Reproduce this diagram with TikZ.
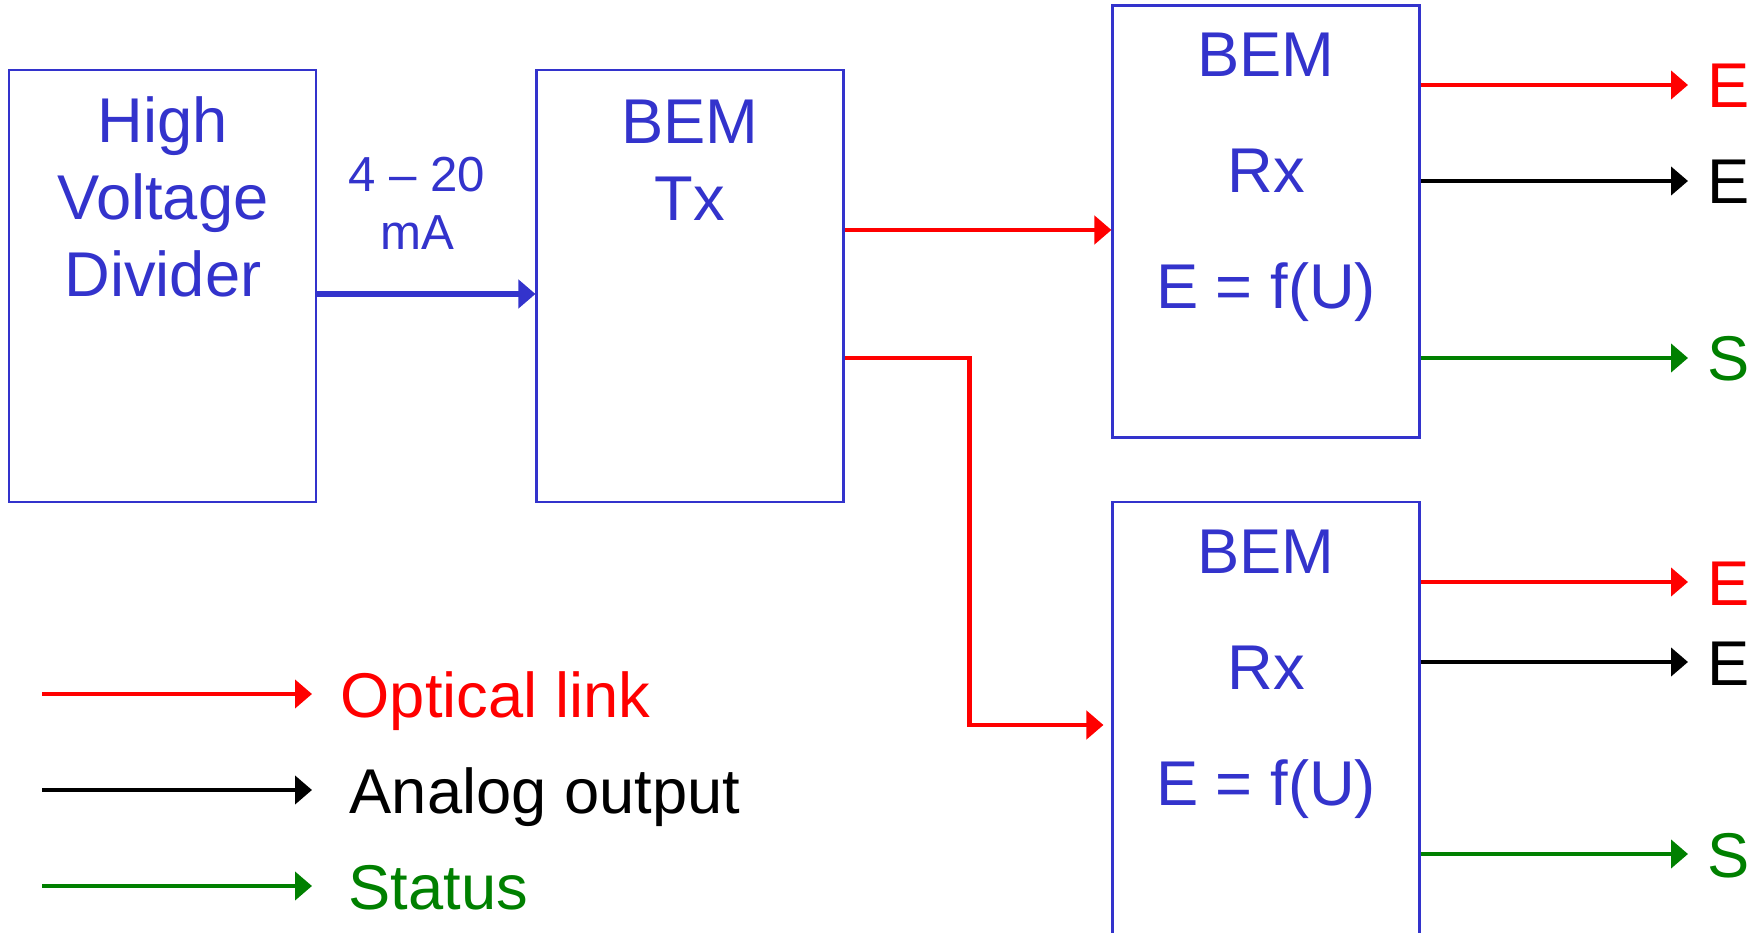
\documentclass[tikz,border=0pt]{standalone}
\usepackage{fontspec}
\setmainfont{Liberation Sans}
\usetikzlibrary{arrows.meta,calc}
\definecolor{bemblue}{RGB}{51,51,204}
\definecolor{optred}{RGB}{255,0,0}
\definecolor{statgreen}{RGB}{0,128,0}

\begin{document}
\begin{tikzpicture}[x=1cm,y=1cm,
  block/.style={draw=bemblue,line width=0.6pt,minimum width=3.07cm,minimum height=4.32cm,inner sep=0pt},
  btext/.style={text=bemblue,align=center,font=\fontsize{18}{22}\selectfont},
  link/.style={line width=1.4pt,-{Triangle[length=0.17cm,width=0.28cm]}},
  outlbl/.style={anchor=west,inner xsep=0.19cm,font=\fontsize{18}{22}\selectfont,text height=0.46cm,text depth=0pt}]
\useasboundingbox (0,0) rectangle (17.61,9.32);
% Blocks
\node[block] (hvd) at (1.625,6.46) {};
\node[block] (tx) at (6.90,6.46) {};
\node[block] (rxa) at (12.66,7.105) {};
\node[block,minimum height=4.40cm] (rxb) at (12.66,2.10) {};
% Block texts
\node[btext] (hvdtxt) at (1.63,7.35) {High\\Voltage\\Divider};
\node[btext] (txtxt) at (6.90,7.72) {BEM\\Tx};
\node[btext,font=\fontsize{18}{33}\selectfont] (rxatxt) at (12.66,7.55) {BEM\\Rx\\E = f(U)};
\node[btext,font=\fontsize{18}{33}\selectfont] (rxbtxt) at (12.66,2.58) {BEM\\Rx\\E = f(U)};
% Current loop
\node[btext,font=\fontsize{14}{16.5}\selectfont] (loop) at (4.17,7.29) {4 -- 20\\mA};
\draw[link,bemblue,line width=1.6pt] ([yshift=-0.8mm]hvd.east) -- ([yshift=-0.8mm]tx.west);
% Optical links Tx -> Rx
\draw[link,optred] ([yshift=5.6mm]tx.east) -- ([yshift=5.6mm]tx.east -| rxa.west);
\draw[link,optred] ([yshift=-7.2mm]tx.east) -- ++(1.25,0) |- ([xshift=-0.8mm,yshift=-0.3mm]rxb.west);
% Outputs of upper Rx
\node[outlbl,text=optred] (ea1) at (16.88,8.47) {E};
\node[outlbl] (eb1) at (16.88,7.51) {E};
\node[outlbl,text=statgreen] (st1) at (16.88,5.74) {S};
\draw[link,optred] (rxa.east |- ea1) -- (ea1.west);
\draw[link,black] (rxa.east |- eb1) -- (eb1.west);
\draw[link,statgreen] (rxa.east |- st1) -- (st1.west);
% Outputs of lower Rx
\node[outlbl,text=optred] (ea2) at (16.88,3.50) {E};
\node[outlbl] (eb2) at (16.88,2.70) {E};
\node[outlbl,text=statgreen] (st2) at (16.88,0.78) {S};
\draw[link,optred] (rxb.east |- ea2) -- (ea2.west);
\draw[link,black] (rxb.east |- eb2) -- (eb2.west);
\draw[link,statgreen] (rxb.east |- st2) -- (st2.west);
% Legend
\node[outlbl,text=optred] (lgopt) at (3.21,2.38) {Optical link};
\node[outlbl] (lgana) at (3.30,1.42) {Analog output};
\node[outlbl,text=statgreen] (lgsta) at (3.29,0.46) {Status};
\coordinate (lg1) at (0.42,2.38);
\coordinate (lg2) at (0.42,1.42);
\coordinate (lg3) at (0.42,0.46);
\draw[link,optred,line width=1.2pt,shorten >=0.9mm] (lg1) -- (lgopt.west);
\draw[link,black,line width=1.2pt,shorten >=1.8mm] (lg2) -- (lgana.west);
\draw[link,statgreen,line width=1.2pt,shorten >=1.7mm] (lg3) -- (lgsta.west);
\end{tikzpicture}
\end{document}
